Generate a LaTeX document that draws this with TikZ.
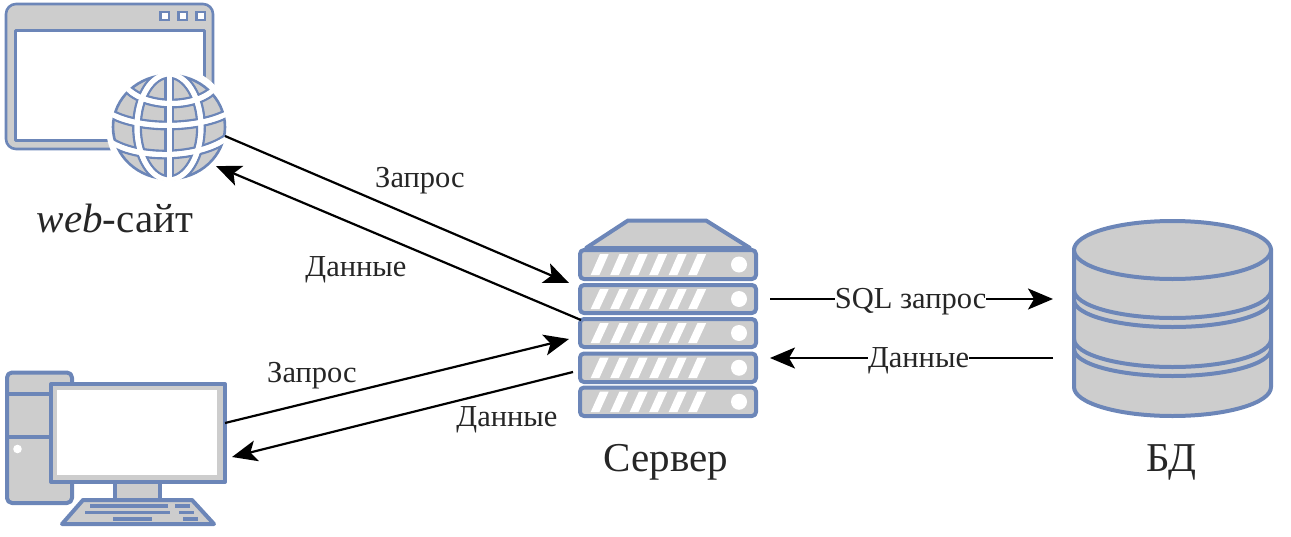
\documentclass[tikz,border=0pt]{standalone}
\usepackage{fontspec}
\setmainfont{Liberation Serif}
\usetikzlibrary{arrows.meta}
\definecolor{bl}{HTML}{6C86B8}
\definecolor{gr}{HTML}{CDCDCD}
\tikzset{
  shapeline/.style={draw=bl,fill=gr,line width=4pt,line join=round},
  thinshape/.style={draw=bl,fill=gr,line width=2.6pt,line join=round},
  conn/.style={draw=black,line width=2.2pt,-{Stealth[length=25pt,width=21pt,inset=6pt]}},
  lab/.style={font=\fontsize{30.5}{33}\selectfont,text=black!85,inner sep=1pt},
  biglab/.style={font=\fontsize{41}{44}\selectfont,text=black!85,inner sep=0pt},
  onwire/.style={lab,fill=white,inner xsep=0pt,inner ysep=0pt}
}
\newcommand{\srvunit}[2]{%
  \draw[shapeline,rounded corners=4pt] (580,#1) rectangle (756,#2);
  \foreach \k in {0,...,5}{
    \fill[white] ({590.7+19.5*\k},{#2-4}) -- ({599.4+19.5*\k},{#2-4}) -- ({608.7+19.5*\k},{#1+4}) -- ({600+19.5*\k},{#1+4}) -- cycle;
  }
  \fill[white] (739,{(#1+#2)/2}) circle[radius=8];
}
\begin{document}
\begin{tikzpicture}[x=1pt,y=-1pt]
\useasboundingbox (0,0) rectangle (1291,536);
% window
\draw[thinshape,even odd rule] [rounded corners=10pt] (6,4) -- (213,4) -- (213,149) -- (6,149) -- cycle [sharp corners] (15.5,30.5) rectangle (204.5,140.5);
\foreach \x in {160.5,178.5,196.5}{\draw[draw=bl,fill=white,line width=2.4pt] (\x,12) rectangle +(8.5,8);}
% globe
\fill[white] (169,127) ellipse[x radius=63,y radius=61];
\begin{scope}
  \clip (169,127) ellipse[x radius=56.5,y radius=52.5];
  \fill[gr] (169,127) ellipse[x radius=56.5,y radius=52.5];
  \foreach \c/\w in {bl/9.8,white/5}{
    \draw[\c,line width=\w pt] (169,70) -- (169,184);
    \draw[\c,line width=\w pt] (169,127) ellipse[x radius=32,y radius=53];
    \draw[\c,line width=\w pt] (120,76) .. controls (130,112) and (208,112) .. (220,80);
    \draw[\c,line width=\w pt] (108,112) .. controls (135,130) and (200,130) .. (230,112);
    \draw[\c,line width=\w pt] (108,140) .. controls (135,160) and (200,160) .. (230,136);
  }
\end{scope}
\draw[draw=bl,line width=2.6pt] (169,127) ellipse[x radius=56,y radius=52];
\begin{scope}
  \clip (169,127) ellipse[x radius=58,y radius=54];
  \foreach \c/\w in {white/5}{
    \draw[\c,line width=\w pt] (169,70) -- (169,184);
    \draw[\c,line width=\w pt] (169,127) ellipse[x radius=32,y radius=53];
    \draw[\c,line width=\w pt] (120,76) .. controls (130,112) and (208,112) .. (220,80);
    \draw[\c,line width=\w pt] (108,112) .. controls (135,130) and (200,130) .. (230,112);
    \draw[\c,line width=\w pt] (108,140) .. controls (135,160) and (200,160) .. (230,136);
  }
\end{scope}
\node[biglab] (sitelab) at (115,218) {\textit{web}-сайт};
% computer
\draw[shapeline,rounded corners=5pt] (7,372.5) rectangle (72,503);
\draw[bl,line width=4pt] (7,394) -- (55,394) (7,437) -- (55,437);
\fill[white] (17.5,449) circle[radius=4.3];
\draw[shapeline] (115,482) rectangle (160,500);
\draw[shapeline] (51,384) rectangle (225,482);
\fill[white] (57,390) rectangle (217,475);
\draw[shapeline] (83,500) -- (192,500) -- (214,524) -- (62,524) -- cycle;
\draw[bl,line width=3.6pt] (90,506) -- (168,506) (175,506) -- (190,506)
  (85,512.5) -- (170,512.5) (179,512.5) -- (194,512.5)
  (113,519) -- (152,519) (183,519) -- (198,519);
% server
\draw[shapeline] (586,248) -- (628,220.5) -- (706,220.5) -- (750,248) -- cycle;
\srvunit{250}{279}
\srvunit{285}{313}
\srvunit{319}{347}
\srvunit{353.5}{382}
\srvunit{387.5}{416}
\node[biglab] (srvlab) at (666,462) {Сервер};
% database
\draw[shapeline] (1074,249) -- (1074,387) arc[start angle=180,end angle=0,x radius=98.5,y radius=29] -- (1271,249) -- cycle;
\draw[shapeline] (1172.5,250) ellipse[x radius=98.5,y radius=29];
\draw[bl,line width=4pt]
  (1074,290) arc[start angle=180,end angle=0,x radius=98.5,y radius=28]
  (1074,300) arc[start angle=180,end angle=0,x radius=98.5,y radius=27]
  (1074,339) arc[start angle=180,end angle=0,x radius=98.5,y radius=28]
  (1074,349) arc[start angle=180,end angle=0,x radius=98.5,y radius=27];
\node[biglab] (dblab) at (1171,462) {БД};
% connector ends
\coordinate (siteR) at (225,136);
\coordinate (siteIn) at (216,166);
\coordinate (srvA) at (569,283);
\coordinate (srvB) at (581,320);
\coordinate (srvC) at (569,339);
\coordinate (srvD) at (573,372);
\coordinate (pcOut) at (225,423);
\coordinate (pcIn) at (232,457);
\coordinate (srvOut) at (770,299);
\coordinate (dbIn) at (1053,299);
\coordinate (dbOut) at (1053,358);
\coordinate (srvIn) at (770,358);
\draw[conn] (siteR) -- (srvA);
\draw[conn] (srvB) -- (siteIn);
\draw[conn] (pcOut) -- (srvC);
\draw[conn] (srvD) -- (pcIn);
\draw[conn] (srvOut) -- node[onwire,pos=.497,yshift=-3pt] (sql) {SQL запрос} (dbIn);
\draw[conn] (dbOut) -- node[onwire,pos=.475,yshift=-3pt] (dan3) {Данные} (srvIn);
\node[lab] (zap1) at (420,181) {Запрос};
\node[lab] (dan1) at (356,270) {Данные};
\node[lab] (zap2) at (312,376) {Запрос};
\node[lab] (dan2) at (507,420) {Данные};
\end{tikzpicture}
\end{document}
